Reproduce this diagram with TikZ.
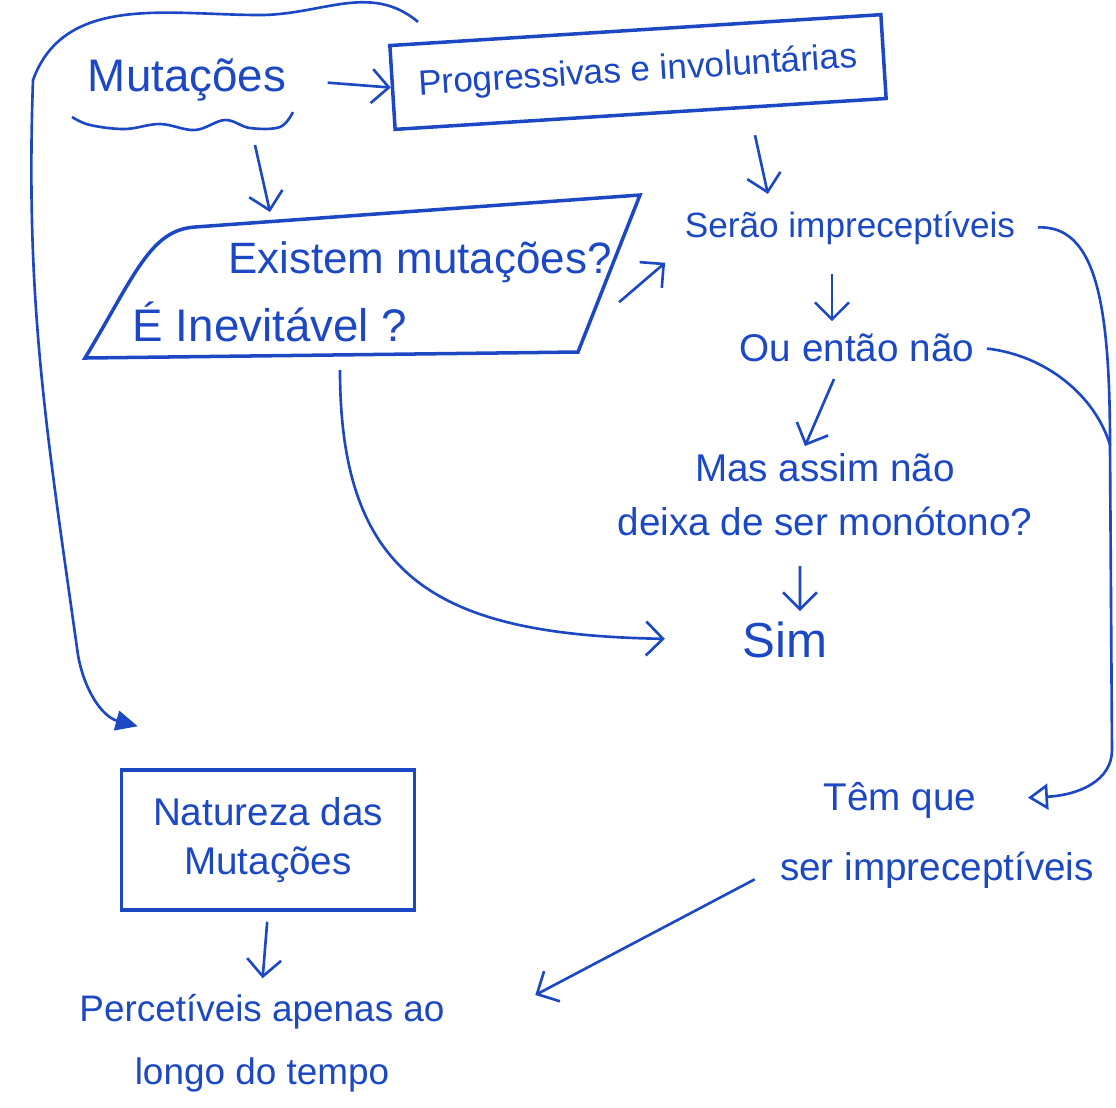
\documentclass[tikz,border=0pt]{standalone}
\usepackage{fontspec}
\setmainfont{Liberation Sans}
\usepackage{tikz}
\usetikzlibrary{positioning,arrows.meta,calc}
\definecolor{ink}{RGB}{28,72,196}
\tikzset{
  flow/.style={-{Straight Barb[length=1.7mm,width=3.4mm]}, line width=0.75pt, draw=ink},
  every node/.style={anchor=center}
}

\begin{document}
\begin{tikzpicture}[
    txt/.style={align=center, text=ink, inner sep=2pt},
    box/.style={draw=ink, line width=1pt},
    pen/.style={line width=0.75pt, draw=ink},
    loopline/.style={-{Triangle[length=2.2mm,width=2mm]}, line width=0.75pt, draw=ink},
    backline/.style={-{Triangle[open,length=2mm,width=2.6mm]}, line width=0.75pt, draw=ink}
  ]
  \useasboundingbox (0,0) rectangle (11.16,-11.07);

  % text nodes
  \node[txt, font=\fontsize{13}{15}\selectfont] (mut) at (1.87,-0.80) {Mutações};
  \node[txt, box, rotate=3.6, minimum width=4.92cm, minimum height=0.84cm, font=\fontsize{10}{12}\selectfont] (prog) at (6.38,-0.72) {Progressivas e involuntárias};
  \node[txt, font=\fontsize{12.5}{15}\selectfont] (exist) at (4.20,-2.62) {Existem mutações?};
  \node[txt, font=\fontsize{13}{15}\selectfont] (inev) at (2.70,-3.22) {É Inevitável ?};
  \node[txt, font=\fontsize{10}{12}\selectfont] (serao) at (8.50,-2.28) {Serão impreceptíveis};
  \node[txt, font=\fontsize{11}{13}\selectfont] (outao) at (8.57,-3.48) {Ou então não};
  \node[txt, font=\fontsize{11}{15.4}\selectfont] (mas) at (8.25,-4.95) {Mas assim não\\deixa de ser monótono?};
  \node[txt, font=\fontsize{14}{16}\selectfont] (sim) at (7.85,-6.40) {Sim};
  \node[txt, font=\fontsize{11}{13}\selectfont] (temque) at (9.00,-8.00) {Têm que};
  \node[txt, font=\fontsize{11}{13}\selectfont] (serimp) at (9.37,-8.70) {ser impreceptíveis};
  \node[txt, box, minimum width=2.93cm, minimum height=1.40cm, font=\fontsize{11}{13.7}\selectfont] (nat) at (2.68,-8.40) {Natureza das\\Mutações};
  \node[txt, font=\fontsize{10.5}{18}\selectfont] (perc) at (2.62,-10.43) {Percetíveis apenas ao\\longo do tempo};

  % wavy underline
  \draw[pen] plot[smooth, tension=0.6] coordinates {(0.72,-1.17) (0.90,-1.25) (1.25,-1.29) (1.60,-1.24) (1.95,-1.30) (2.25,-1.20) (2.50,-1.28) (2.80,-1.27) (2.93,-1.12)};

  % question box
  \coordinate (qbl) at (0.85,-3.58);
  \coordinate (qtl) at (1.95,-2.27);
  \coordinate (qtr) at (6.40,-1.95);
  \coordinate (qbr) at (5.78,-3.52);
  \draw[box] (qbl) .. controls (1.35,-2.75) and (1.50,-2.30) .. (qtl) -- (qtr) -- (qbr) -- cycle;
  \coordinate (qtop) at (2.70,-2.12);
  \coordinate (qright) at (6.10,-3.10);
  \coordinate (qbot) at (3.40,-3.55);

  % arrows
  \draw[flow, shorten <=0.34cm] (mut.east) -- (prog.west);
  \draw[flow] ([shift={(0.68,-0.36)}]mut.south) -- (qtop);
  \draw[flow, shorten <=0.2cm, shorten >=0.1cm] ([xshift=1.1cm]prog.south) -- ([xshift=-0.8cm]serao.north);
  \draw[flow, shorten <=0.12cm, shorten >=0.16cm] (qright) -- (serao.south west);
  \draw[flow, shorten <=0.22cm, shorten >=0.05cm] ([xshift=-0.18cm]serao.south) -- ([xshift=-0.25cm]outao.north);
  \draw[flow, shorten <=0.1cm] ([xshift=-0.19cm]outao.south) -- ([xshift=-0.2cm]mas.north);
  \draw[flow, shorten <=0.22cm, shorten >=0.03cm] ([xshift=-0.25cm]mas.south) -- ([xshift=0.15cm]sim.north);
  \draw[flow, shorten <=0.15cm, shorten >=0.7cm] (qbot) .. controls (3.40,-5.8) and (4.4,-6.35) .. (sim.west);
  \draw[flow, shorten <=0.1cm, shorten >=0.08cm] (nat.south) -- (perc.north);
  \draw[flow, shorten <=0.2cm] (serimp.west) -- ([shift={(0.83,0.48)}]perc.east);

  % right feedback curves
  \coordinate (rjoin) at (11.10,-4.45);
  \coordinate (rbot) at (11.12,-7.50);
  \draw[pen, shorten <=0.15cm] (serao.east) .. controls (10.95,-2.25) and (11.10,-3.0) .. (rjoin);
  \draw[pen, shorten <=0.05cm] (outao.east) .. controls (10.45,-3.55) and (10.95,-3.95) .. (rjoin);
  \draw[backline, shorten >=0.44cm] (rjoin) -- (rbot) .. controls (11.12,-7.80) and (10.80,-7.95) .. (temque.east);

  % left loop
  \coordinate (loopA) at (2.60,-0.15);
  \coordinate (loopB) at (0.33,-0.80);
  \coordinate (loopC) at (0.78,-6.55);
  \draw[loopline] ([shift={(0.30,0.22)}]prog.north west) to[out=140,in=0] (loopA) to[out=180,in=70] (loopB) to[out=-92,in=98] (loopC) to[out=-80,in=165] ([shift={(0.18,0.42)}]nat.north west);

\end{tikzpicture}
\end{document}
